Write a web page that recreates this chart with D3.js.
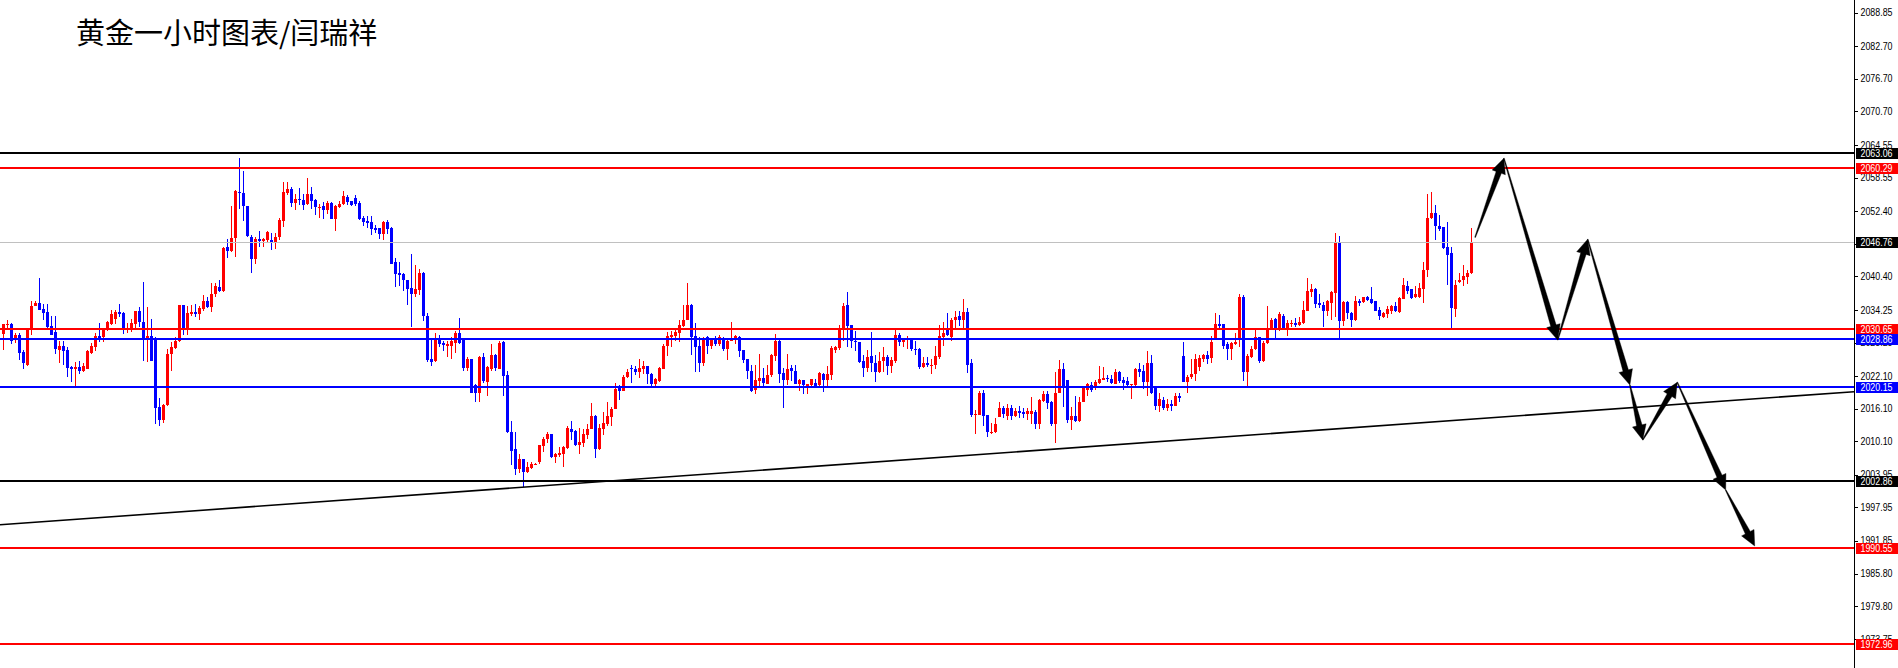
<!DOCTYPE html>
<html>
<head>
<meta charset="utf-8">
<script src="https://cdn.jsdelivr.net/npm/d3@7/dist/d3.min.js"></script>
<style>
html,body{margin:0;padding:0;background:#fff;overflow:hidden;}
svg{display:block;}
</style>
</head>
<body>
<svg id="chart" width="1898" height="668"></svg>
<script>
// ---------------- DATA ----------------
const title = "黄金一小时图表/闫瑞祥";

// hourly candles [open, high, low, close]
const ohlc = [
[2029.9,2031.7,2026.8,2031.6],[2031.5,2032.3,2030.5,2031.7],[2031.7,2031.8,2027.9,2028.6],[2028.8,2030.0,2028.2,2029.6],
[2029.6,2030.0,2025.0,2026.3],[2026.5,2026.8,2023.4,2024.4],[2024.2,2030.6,2023.9,2030.5],[2030.5,2035.9,2029.7,2034.9],
[2035.0,2035.9,2035.0,2035.5],[2035.5,2040.1,2034.2,2034.3],[2034.4,2035.4,2032.4,2033.7],[2033.8,2035.4,2031.0,2031.1],
[2031.2,2033.2,2029.6,2029.7],[2030.1,2033.2,2026.2,2027.0],[2026.8,2028.6,2024.5,2027.7],[2027.7,2028.6,2024.2,2026.7],
[2026.8,2027.5,2022.0,2023.6],[2023.7,2024.0,2021.0,2023.4],[2023.4,2024.7,2020.2,2023.7],[2023.7,2024.8,2022.5,2023.1],
[2023.1,2024.4,2022.9,2024.0],[2023.4,2026.8,2023.3,2026.6],[2026.4,2028.2,2026.2,2027.6],[2027.4,2030.0,2026.7,2029.4],
[2029.4,2031.8,2028.3,2029.1],[2029.3,2030.7,2028.3,2030.5],[2030.5,2032.2,2030.4,2032.0],[2031.7,2034.3,2031.4,2033.5],
[2032.5,2034.3,2031.7,2033.8],[2033.8,2035.4,2032.9,2033.4],[2033.7,2033.8,2029.9,2030.6],[2030.6,2031.8,2030.0,2031.0],
[2030.8,2032.6,2030.2,2031.8],[2031.7,2034.1,2030.6,2034.0],[2034.1,2034.8,2031.1,2032.0],[2032.1,2039.3,2024.8,2029.0],
[2029.0,2034.8,2024.7,2029.4],[2029.4,2032.6,2024.8,2024.8],[2028.8,2029.3,2013.2,2016.2],[2016.4,2018.1,2012.9,2014.0],
[2014.0,2017.0,2013.5,2016.7],[2016.7,2027.1,2016.6,2026.2],[2026.2,2028.3,2023.1,2027.4],[2027.3,2029.3,2027.0,2028.6],
[2028.6,2035.2,2028.4,2035.1],[2035.1,2035.2,2029.7,2030.6],[2030.7,2035.0,2029.6,2033.7],[2033.5,2035.1,2033.2,2033.8],
[2033.8,2035.4,2032.9,2033.4],[2033.4,2035.0,2032.3,2034.6],[2034.4,2036.9,2034.1,2035.9],[2035.9,2036.6,2034.5,2034.8],
[2034.8,2039.1,2033.8,2037.2],[2037.2,2039.1,2036.6,2038.6],[2038.4,2039.8,2037.5,2037.7],[2037.7,2045.8,2037.5,2045.6],
[2045.8,2047.2,2043.8,2045.0],[2045.0,2053.4,2044.9,2047.5],[2047.5,2056.3,2043.9,2056.1],[2055.9,2062.1,2052.8,2055.7],
[2055.7,2059.8,2050.5,2053.3],[2053.4,2053.4,2047.7,2047.9],[2047.7,2048.0,2041.1,2043.6],[2043.6,2047.6,2042.6,2047.2],
[2047.2,2048.8,2045.8,2046.9],[2046.9,2047.5,2045.8,2047.2],[2047.1,2048.8,2046.7,2048.5],[2047.1,2048.3,2045.3,2046.7],
[2046.7,2048.3,2045.5,2047.6],[2047.6,2051.2,2047.0,2050.7],[2050.5,2057.7,2049.4,2055.9],[2055.7,2057.7,2055.3,2056.5],
[2056.5,2056.8,2053.1,2053.9],[2053.9,2055.6,2052.6,2054.6],[2054.6,2056.6,2053.6,2054.5],[2054.5,2055.6,2052.5,2053.6],
[2053.7,2058.4,2053.6,2055.6],[2055.6,2056.8,2052.8,2054.2],[2054.5,2054.6,2051.6,2053.1],[2053.1,2053.7,2051.2,2053.2],
[2053.3,2054.0,2050.9,2052.5],[2052.5,2054.2,2051.8,2053.9],[2053.9,2054.0,2050.9,2051.0],[2051.0,2053.5,2048.8,2053.3],
[2053.1,2054.2,2052.9,2053.7],[2053.7,2056.0,2053.5,2055.1],[2055.0,2055.4,2053.6,2054.0],[2054.2,2054.3,2053.4,2053.6],
[2054.8,2055.4,2053.4,2053.7],[2053.9,2054.2,2050.7,2050.9],[2051.1,2051.4,2049.6,2050.4],[2050.5,2051.4,2049.3,2050.2],
[2050.4,2051.4,2048.0,2049.1],[2049.2,2049.9,2048.4,2049.0],[2049.2,2049.2,2047.2,2048.1],[2048.1,2050.5,2047.1,2050.3],
[2050.3,2050.7,2048.2,2049.1],[2049.3,2049.5,2042.6,2042.7],[2043.0,2043.8,2038.4,2040.9],[2041.0,2043.0,2038.7,2040.6],
[2040.8,2041.0,2037.8,2039.7],[2039.7,2039.8,2035.2,2038.1],[2038.2,2044.5,2031.1,2037.1],[2037.1,2042.4,2036.6,2038.0],
[2037.9,2041.8,2037.0,2041.0],[2041.0,2041.2,2032.2,2033.1],[2033.2,2033.7,2024.7,2025.0],[2025.2,2029.0,2023.9,2024.7],
[2024.8,2030.0,2024.7,2029.0],[2029.0,2029.6,2027.4,2028.0],[2028.2,2028.6,2026.7,2027.8],[2027.7,2028.6,2025.6,2028.0],
[2027.7,2029.3,2025.2,2028.5],[2028.1,2030.3,2026.4,2030.0],[2030.0,2032.7,2027.9,2028.2],[2028.8,2029.1,2023.1,2023.6],
[2023.6,2025.6,2023.0,2025.2],[2025.2,2025.3,2019.0,2019.0],[2020.4,2020.7,2017.3,2019.0],[2019.0,2025.8,2017.4,2025.6],
[2025.6,2026.4,2020.9,2021.2],[2021.0,2024.0,2018.5,2023.7],[2023.3,2028.0,2023.1,2025.9],[2025.9,2026.2,2023.1,2023.6],
[2023.4,2028.5,2023.3,2028.2],[2028.3,2028.5,2018.5,2022.1],[2022.2,2023.1,2011.6,2011.8],[2011.9,2013.8,2005.7,2008.4],
[2008.6,2011.8,2004.0,2005.0],[2005.1,2007.8,2004.3,2006.8],[2006.8,2006.9,2001.7,2004.5],[2004.5,2006.3,2004.2,2005.4],
[2005.2,2006.3,2005.1,2006.0],[2005.8,2006.1,2005.7,2006.0],[2006.3,2009.5,2006.0,2009.4],[2009.2,2010.9,2008.1,2010.6],
[2010.5,2011.8,2009.7,2011.4],[2011.4,2011.5,2007.1,2007.2],[2007.2,2007.9,2006.1,2007.7],[2007.5,2009.05,2007.2,2007.9],
[2007.8,2009.2,2005.4,2009.0],[2008.9,2012.9,2008.7,2012.5],[2012.3,2013.9,2010.3,2011.9],[2012.0,2012.1,2009.2,2009.4],
[2009.4,2012.6,2007.8,2010.0],[2009.7,2012.4,2009.0,2011.5],[2011.3,2013.2,2010.6,2012.3],[2012.4,2017.1,2012.3,2014.7],
[2014.7,2014.9,2007.0,2008.6],[2008.6,2013.2,2008.5,2012.5],[2012.3,2015.4,2011.2,2013.5],[2013.2,2017.3,2013.0,2014.7],
[2014.6,2016.4,2012.9,2016.1],[2016.1,2020.8,2016.0,2019.8],[2020.2,2020.4,2017.7,2019.3],[2019.3,2022.3,2019.3,2022.0],
[2021.9,2023.3,2021.8,2022.8],[2023.6,2024.2,2020.8,2023.3],[2023.4,2024.0,2022.2,2022.8],[2022.8,2025.3,2021.7,2023.6],
[2023.4,2024.8,2022.4,2023.9],[2023.9,2024.0,2020.6,2022.4],[2022.5,2022.6,2020.3,2020.6],[2020.6,2021.7,2020.2,2021.5],
[2021.2,2023.7,2021.0,2023.6],[2023.4,2027.9,2023.3,2027.7],[2027.6,2030.2,2025.7,2029.4],[2029.2,2030.3,2027.4,2029.6],
[2029.4,2030.5,2028.6,2030.2],[2030.0,2032.3,2028.3,2031.4],[2031.3,2035.1,2031.1,2032.4],[2032.4,2039.2,2032.3,2035.1],
[2035.2,2035.4,2025.9,2029.2],[2029.4,2031.9,2022.8,2027.5],[2027.6,2029.2,2022.8,2024.5],[2024.5,2029.2,2023.9,2028.9],
[2029.2,2029.4,2026.1,2027.6],[2027.6,2029.1,2027.1,2028.9],[2029.1,2029.4,2027.7,2027.9],[2027.9,2029.6,2027.7,2029.3],
[2029.1,2029.3,2026.7,2027.0],[2027.0,2028.9,2025.0,2028.5],[2028.5,2032.0,2028.5,2029.1],[2028.8,2029.7,2027.9,2029.4],
[2029.3,2029.4,2025.6,2026.7],[2026.8,2026.9,2024.4,2025.0],[2025.2,2025.3,2021.5,2023.0],[2023.1,2024.2,2019.2,2019.3],
[2019.6,2024.05,2018.7,2021.3],[2021.1,2026.1,2020.2,2021.7],[2021.7,2023.6,2020.1,2020.8],[2020.7,2024.2,2020.6,2022.3],
[2022.2,2026.2,2021.9,2025.9],[2025.8,2029.9,2024.8,2028.6],[2028.6,2028.8,2020.8,2022.4],[2022.7,2023.6,2016.2,2021.3],
[2021.3,2026.2,2020.4,2023.4],[2023.5,2024.05,2021.2,2023.0],[2023.1,2024.2,2020.6,2020.6],[2020.6,2021.6,2019.3,2021.3],
[2021.3,2021.3,2018.7,2020.4],[2020.2,2020.7,2018.7,2020.6],[2020.4,2021.5,2020.1,2021.5],[2020.9,2021.6,2020.1,2020.2],
[2020.4,2022.8,2020.3,2022.6],[2022.5,2022.6,2019.2,2021.3],[2021.3,2023.9,2020.2,2022.4],[2022.2,2027.7,2021.3,2027.2],
[2026.8,2027.7,2026.3,2027.4],[2027.2,2031.4,2026.8,2030.6],[2030.6,2035.5,2028.6,2034.9],[2035.1,2037.6,2027.4,2031.3],
[2031.4,2031.4,2027.3,2028.6],[2028.6,2030.4,2026.7,2028.3],[2028.3,2028.3,2024.5,2024.7],[2024.8,2025.9,2022.0,2023.6],
[2023.6,2026.8,2022.8,2025.5],[2025.7,2030.2,2022.8,2024.5],[2024.5,2025.9,2021.0,2022.8],[2022.8,2026.5,2022.6,2024.8],
[2024.8,2027.5,2022.8,2025.5],[2025.5,2025.9,2022.2,2023.9],[2023.9,2025.5,2022.6,2025.0],[2024.8,2030.5,2024.5,2029.6],
[2029.6,2030.0,2027.7,2028.3],[2028.3,2029.1,2027.4,2029.0],[2028.8,2029.4,2027.0,2029.1],[2029.0,2029.1,2026.7,2027.0],
[2027.0,2028.5,2025.9,2026.8],[2027.0,2027.3,2023.4,2023.7],[2023.7,2025.5,2023.6,2024.5],[2024.4,2025.5,2023.7,2024.1],
[2024.1,2025.3,2022.5,2024.2],[2024.1,2027.7,2023.3,2025.7],[2025.5,2031.4,2025.3,2029.4],[2029.3,2032.0,2027.7,2030.0],
[2030.8,2033.7,2029.4,2029.7],[2029.3,2032.7,2028.6,2032.4],[2032.3,2034.0,2030.5,2033.0],[2033.2,2034.1,2031.2,2032.3],
[2032.3,2036.3,2031.0,2033.8],[2033.8,2034.6,2022.6,2024.2],[2024.4,2025.2,2014.6,2014.9],[2014.9,2015.9,2011.5,2015.1],
[2015.0,2019.3,2014.9,2019.0],[2018.9,2019.5,2013.0,2014.7],[2014.9,2015.0,2010.9,2011.8],[2011.7,2013.5,2011.5,2011.9],
[2011.8,2014.3,2011.7,2013.3],[2014.6,2017.4,2014.6,2016.2],[2016.2,2016.6,2014.3,2015.1],[2014.7,2017.0,2014.1,2016.2],
[2016.2,2016.7,2014.1,2014.7],[2014.7,2016.3,2014.6,2015.6],[2015.6,2016.5,2014.4,2015.3],[2015.4,2016.3,2014.3,2015.1],
[2015.2,2016.2,2014.1,2015.6],[2015.2,2018.2,2013.3,2015.6],[2015.5,2015.9,2012.3,2013.3],[2013.3,2017.9,2012.4,2017.6],
[2017.5,2019.3,2017.3,2018.8],[2018.8,2019.3,2016.1,2017.1],[2017.4,2017.5,2012.9,2013.2],[2013.2,2022.8,2009.8,2019.0],
[2019.0,2025.0,2018.9,2023.3],[2023.4,2024.4,2016.4,2020.1],[2021.3,2021.3,2013.5,2014.1],[2014.1,2016.4,2012.1,2014.7],
[2014.7,2018.4,2013.6,2013.8],[2013.8,2018.2,2013.6,2017.4],[2017.3,2020.2,2017.3,2019.9],[2019.6,2020.8,2018.5,2020.6],
[2020.4,2021.0,2019.2,2019.5],[2020.1,2021.3,2019.5,2021.0],[2020.9,2023.9,2020.7,2021.6],[2021.4,2023.7,2021.3,2021.8],
[2021.7,2022.2,2021.0,2021.5],[2021.5,2022.2,2020.6,2020.8],[2020.7,2023.3,2020.6,2022.8],[2022.8,2023.1,2020.9,2021.2],
[2021.3,2021.9,2019.5,2020.9],[2021.1,2021.9,2019.9,2020.4],[2020.4,2020.6,2017.8,2020.6],[2020.4,2023.6,2020.3,2023.3],
[2023.3,2024.4,2022.0,2022.9],[2023.1,2024.05,2019.8,2021.0],[2021.0,2026.6,2018.4,2024.4],[2024.4,2025.9,2018.7,2018.9],
[2020.1,2020.1,2015.8,2016.6],[2016.6,2019.0,2015.5,2017.9],[2017.7,2018.2,2015.8,2016.2],[2016.2,2017.9,2015.7,2017.0],
[2017.0,2017.6,2015.7,2016.6],[2016.6,2019.0,2016.5,2018.4],[2018.4,2019.0,2017.4,2018.1],[2025.7,2028.3,2021.0,2021.0],
[2021.0,2022.2,2019.0,2022.0],[2021.9,2025.2,2021.6,2022.5],[2022.4,2026.1,2021.2,2025.3],[2023.7,2025.9,2023.1,2025.4],
[2025.3,2026.1,2024.7,2025.9],[2025.9,2026.6,2024.3,2025.3],[2025.4,2029.4,2024.5,2028.4],[2028.8,2033.7,2028.8,2031.6],
[2031.6,2033.3,2030.8,2031.3],[2031.6,2031.6,2027.1,2027.7],[2028.0,2028.3,2025.1,2027.1],[2027.1,2028.3,2025.0,2028.1],
[2027.9,2030.0,2027.8,2028.3],[2028.8,2037.2,2027.4,2036.7],[2036.7,2036.9,2021.1,2022.8],[2022.8,2026.2,2020.1,2025.7],
[2025.6,2027.7,2025.4,2027.1],[2027.1,2030.9,2026.9,2029.2],[2029.2,2029.2,2024.5,2024.8],[2024.8,2028.6,2024.6,2028.2],
[2028.2,2034.9,2028.0,2030.9],[2030.8,2032.7,2030.7,2032.4],[2032.5,2032.7,2029.1,2030.7],[2030.7,2033.8,2030.3,2033.5],
[2033.2,2033.5,2030.5,2030.8],[2030.8,2032.3,2029.4,2031.8],[2031.6,2032.3,2031.1,2031.8],[2031.8,2032.8,2031.1,2031.4],
[2031.4,2033.0,2031.3,2032.0],[2031.9,2035.9,2031.7,2034.3],[2034.1,2040.1,2034.0,2037.7],[2037.5,2039.0,2036.6,2038.0],
[2038.1,2038.3,2034.6,2035.4],[2035.5,2037.2,2034.6,2035.2],[2035.2,2035.7,2031.1,2034.0],[2034.0,2036.0,2033.2,2035.8],
[2035.5,2037.8,2032.3,2037.5],[2037.4,2048.3,2032.9,2046.5],[2046.5,2047.9,2028.7,2032.2],[2032.2,2035.9,2031.3,2035.7],
[2035.7,2035.9,2032.5,2033.6],[2033.7,2033.8,2031.1,2032.3],[2032.3,2036.8,2032.2,2035.9],[2035.9,2036.3,2034.9,2035.5],
[2035.7,2036.7,2035.5,2036.6],[2036.6,2036.8,2035.8,2036.1],[2036.2,2038.4,2035.4,2035.5],[2035.9,2035.9,2034.0,2034.1],
[2034.3,2034.7,2032.3,2033.2],[2033.0,2033.9,2032.8,2033.7],[2033.5,2034.9,2032.8,2034.4],[2034.1,2035.2,2033.5,2034.9],
[2034.9,2035.7,2033.8,2034.0],[2033.8,2036.7,2033.7,2036.5],[2036.3,2040.1,2036.2,2038.9],[2038.7,2039.5,2037.2,2037.8],
[2038.0,2038.1,2036.2,2036.5],[2036.6,2038.7,2036.5,2037.1],[2036.6,2039.2,2036.5,2038.2],[2038.1,2043.0,2035.5,2041.6],
[2041.5,2055.6,2040.3,2051.1],[2051.1,2055.9,2051.0,2052.0],[2052.0,2053.5,2047.0,2049.6],[2049.7,2051.7,2048.8,2049.1],
[2049.4,2049.4,2045.5,2045.6],[2045.8,2050.4,2038.9,2044.4],[2044.7,2045.8,2030.7,2034.6],[2034.4,2039.8,2032.9,2038.9],
[2039.3,2041.1,2039.2,2039.8],[2039.7,2042.4,2038.7,2040.4],[2040.3,2041.6,2039.0,2041.1],[2041.0,2049.3,2040.9,2046.76]
];

// price-axis tick labels
const tickLabels = ["2088.85","2082.70","2076.70","2070.70","2064.55","2058.55","2052.40","2046.40","2040.40",
  "2034.25","2028.25","2022.10","2016.10","2010.10","2003.95","1997.95","1991.85","1985.80","1979.80","1973.75"];

// horizontal price levels
const levelPrices = [2063.06, 2060.29, 2046.76, 2030.65, 2028.86, 2020.15, 2002.86, 1990.55, 1972.96];
const levelTypes  = ["black","red","bid","red","blue","blue","black","red","red"];

// rising support trend line anchors [bar index, price]
const trendAnchors = [[130, 2001.67], [460, 2019.08]];

// forecast arrow path [bar index, price]
const forecastPath = [[367.9,2047.57],[375.1,2062.09],[388.55,2028.71],[396.05,2047.21],[406.6,2020.44],
  [409.8,2010.34],[418.45,2020.94],[430.55,2001.16],[437.8,1990.87]];

// ---------------- DRAW ----------------
const W = 1898, H = 668, axisX = 1854;
const LABEL_FONT = "'Liberation Sans',Arial,sans-serif";
const svg = d3.select("#chart");
svg.append("rect").attr("width", W).attr("height", H).attr("fill", "#fff");

const x = d3.scaleLinear().domain([0, ohlc.length - 1]).range([3.5, 3.5 + 4 * (ohlc.length - 1)]);
const y = d3.scaleLinear().domain([1968.46, 2091.165]).range([H, 0]);

const styles = {
  black: {stroke: "#000000", w: 2, box: "#000000"},
  red:   {stroke: "#FF0000", w: 2, box: "#FF0000"},
  blue:  {stroke: "#0000FF", w: 2, box: "#0000FF"},
  bid:   {stroke: "#C0C0C0", w: 1, box: "#000000"}
};

// candles
const cg = svg.append("g").attr("shape-rendering", "crispEdges");
ohlc.forEach((d, i) => {
  const [o, h, l, c] = d;
  const col = c >= o ? "#FF0000" : "#0000FF";
  const cx = x(i);
  const yh = Math.round(y(h)), yl = Math.round(y(l));
  cg.append("rect").attr("x", cx - 0.5).attr("y", yh).attr("width", 1).attr("height", Math.max(1, yl - yh)).attr("fill", col);
  const yt = Math.round(y(Math.max(o, c))), yb = Math.round(y(Math.min(o, c)));
  cg.append("rect").attr("x", cx - 1.5).attr("y", yt).attr("width", 3).attr("height", Math.max(1, yb - yt)).attr("fill", col);
});

// horizontal levels
const lg = svg.append("g").attr("shape-rendering", "crispEdges");
levelPrices.forEach((p, k) => {
  const s = styles[levelTypes[k]];
  const yy = Math.round(y(p));
  lg.append("rect").attr("x", 0).attr("y", s.w === 2 ? yy - 1 : yy).attr("width", axisX).attr("height", s.w).attr("fill", s.stroke);
});

// trend line (extended across the plot)
{
  const [a, b] = trendAnchors;
  const xa = x(a[0]), ya = y(a[1]), xb = x(b[0]), yb = y(b[1]);
  const m = (yb - ya) / (xb - xa);
  svg.append("line").attr("x1", 0).attr("y1", ya - m * xa).attr("x2", axisX).attr("y2", ya + m * (axisX - xa))
    .attr("stroke", "#000").attr("stroke-width", 1.6);
}

// forecast arrows (tapered shafts with heads)
const ag = svg.append("g");
for (let k = 0; k < forecastPath.length - 1; k++) {
  const A = [x(forecastPath[k][0]), y(forecastPath[k][1])];
  const B = [x(forecastPath[k + 1][0]), y(forecastPath[k + 1][1])];
  const dx = B[0] - A[0], dy = B[1] - A[1], L = Math.hypot(dx, dy);
  const ux = dx / L, uy = dy / L, nx = -uy, ny = ux;
  const hl = Math.min(15, L * 0.4), hw = 7, sw0 = 0.4, sw1 = 2.8;
  const bx = B[0] - ux * hl, by = B[1] - uy * hl;
  const pts = [
    [A[0] + nx * sw0, A[1] + ny * sw0],
    [bx + nx * sw1, by + ny * sw1],
    [bx + nx * hw, by + ny * hw],
    B,
    [bx - nx * hw, by - ny * hw],
    [bx - nx * sw1, by - ny * sw1],
    [A[0] - nx * sw0, A[1] - ny * sw0]
  ];
  ag.append("path").attr("d", d3.line()(pts) + "Z").attr("fill", "#000").attr("stroke", "#000").attr("stroke-width", 0.4);
}

// right price axis
const tickVals = tickLabels.map(Number);
const axis = d3.axisRight(y).tickValues(tickVals).tickFormat((v, i) => tickLabels[i]).tickSize(3).tickSizeOuter(0).tickPadding(3);
const ax = svg.append("g").attr("transform", `translate(${axisX + 0.5},0)`).call(axis);
ax.select(".domain").remove();
ax.selectAll(".tick line").attr("stroke", "#000").attr("shape-rendering", "crispEdges");
ax.selectAll(".tick text").attr("fill", "#000").style("font-family", LABEL_FONT).style("font-size", "10px")
  .attr("textLength", 32).attr("lengthAdjust", "spacingAndGlyphs");
svg.append("line").attr("x1", axisX + 0.5).attr("x2", axisX + 0.5).attr("y1", 0).attr("y2", H)
  .attr("stroke", "#000").attr("stroke-width", 1).attr("shape-rendering", "crispEdges");

// price boxes on the axis
const bg = svg.append("g");
levelPrices.forEach((p, k) => {
  const s = styles[levelTypes[k]];
  const yy = Math.round(y(p));
  bg.append("rect").attr("x", axisX + 2).attr("y", yy - 5.5).attr("width", 41.5).attr("height", 11)
    .attr("fill", s.box).attr("shape-rendering", "crispEdges");
  bg.append("text").attr("x", axisX + 6.5).attr("y", yy).attr("dy", "0.35em").attr("fill", "#fff")
    .style("font-family", LABEL_FONT).style("font-size", "10px")
    .attr("textLength", 32).attr("lengthAdjust", "spacingAndGlyphs")
    .text(p.toFixed(2));
});

// title
svg.append("text").attr("x", 76).attr("y", 44).attr("fill", "#000")
  .style("font-family", "'Noto Sans CJK SC','Noto Sans',sans-serif").style("font-size", "29px")
  .text(title);
</script>
</body>
</html>
